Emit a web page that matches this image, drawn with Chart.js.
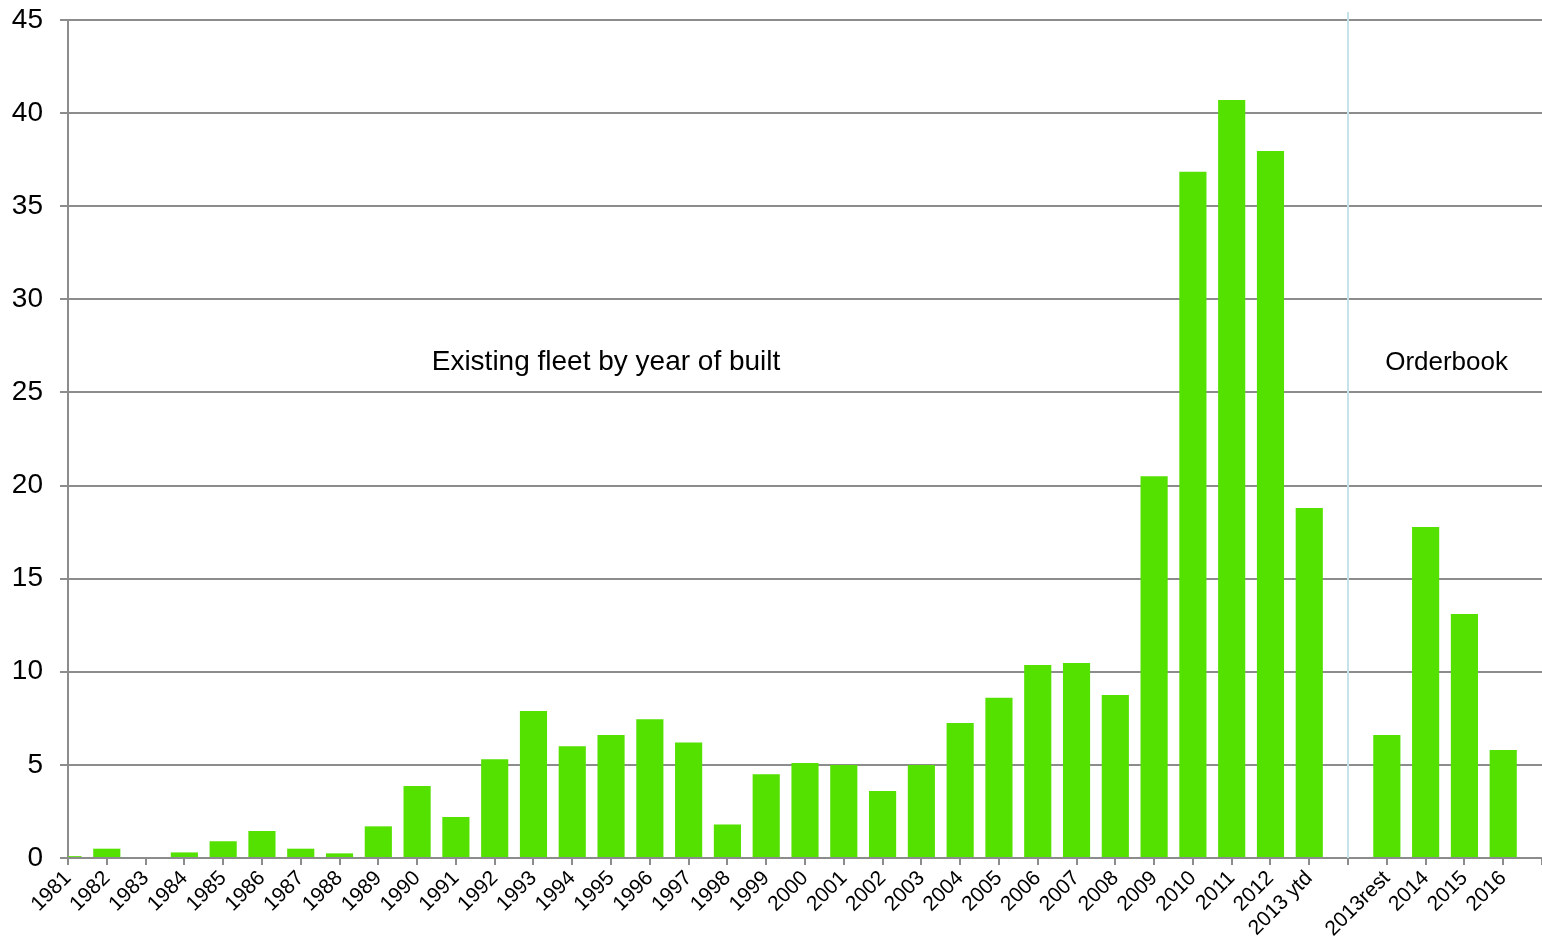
<!DOCTYPE html>
<html>
<head>
<meta charset="UTF-8">
<title>Fleet by year of built</title>
<script src="https://cdn.jsdelivr.net/npm/chart.js@4"></script>
<style>
  body { margin: 0; background: #fff; }
  #wrap { width: 1542px; height: 945px; }
</style>
</head>
<body>
<div id="wrap"><canvas id="myChart"></canvas></div>
<script>
// categories, the empty ones make the gap before the orderbook and the space at the end
var years = ['1981','1982','1983','1984','1985','1986','1987','1988','1989','1990',
  '1991','1992','1993','1994','1995','1996','1997','1998','1999','2000',
  '2001','2002','2003','2004','2005','2006','2007','2008','2009','2010',
  '2011','2012','2013 ytd','','2013rest','2014','2015','2016',''];

var fleet = [0.1, 0.5, 0, 0.3, 0.9, 1.45, 0.5, 0.25, 1.7, 3.87,
  2.2, 5.3, 7.9, 6.0, 6.6, 7.45, 6.2, 1.8, 4.5, 5.1,
  5.0, 3.6, 5.0, 7.25, 8.6, 10.37, 10.47, 8.75, 20.5, 36.85,
  40.7, 37.97, 18.8, null, 6.6, 17.78, 13.1, 5.8, null];

var yTicks = [0, 5, 10, 15, 20, 25, 30, 35, 40, 45];

var notes = [
  { text: 'Existing fleet by year of built', at: 13.87, y: 26.6, size: 28 },
  { text: 'Orderbook', at: 35.54, y: 26.6, size: 26 }
];
var dividerAt = 33;

var extras = {
  id: 'extras',
  afterDatasetsDraw: function(chart) {
    var ctx = chart.ctx, xs = chart.scales.x, ys = chart.scales.y;
    ctx.save();
    var dx = Math.round(xs.getPixelForValue(dividerAt));
    ctx.strokeStyle = '#c3e3e8';
    ctx.lineWidth = 2;
    ctx.beginPath();
    ctx.moveTo(dx, chart.chartArea.top - 8);
    ctx.lineTo(dx, chart.chartArea.bottom);
    ctx.stroke();

    ctx.fillStyle = '#000';
    ctx.textAlign = 'center';
    ctx.textBaseline = 'middle';
    notes.forEach(function(n) {
      ctx.font = n.size + 'px "Liberation Sans", Arial, sans-serif';
      ctx.fillText(n.text, xs.getPixelForValue(n.at), ys.getPixelForValue(n.y));
    });
    ctx.restore();
  }
};

var ctx = document.getElementById('myChart').getContext('2d');
var chart = new Chart(ctx, {
  type: 'bar',
  data: {
    labels: years,
    datasets: [{
      data: fleet,
      backgroundColor: '#55e100',
      barPercentage: 0.7,
      categoryPercentage: 1.0
    }]
  },
  options: {
    responsive: true,
    maintainAspectRatio: false,
    animation: false,
    layout: { padding: { top: 20, right: 0, left: 0, bottom: 0 } },
    plugins: { legend: { display: false }, tooltip: { enabled: false } },
    scales: {
      x: {
        offset: false,
        grid: {
          display: true,
          offset: false,
          drawOnChartArea: false,
          drawTicks: true,
          tickLength: 7,
          color: '#8c8c8c',
          lineWidth: 2
        },
        border: { color: '#8c8c8c', width: 2 },
        ticks: {
          autoSkip: false,
          maxRotation: 45,
          minRotation: 45,
          padding: 1,
          color: '#000',
          font: { family: '"Liberation Sans", Arial, sans-serif', size: 21 }
        },
        afterFit: function(s) {
          s.height = 87;
          s.paddingLeft = 0;
          s.paddingRight = 0;
        }
      },
      y: {
        min: 0,
        max: 45,
        afterBuildTicks: function(s) { s.ticks = yTicks.map(function(v) { return { value: v }; }); },
        grid: {
          color: '#8c8c8c',
          lineWidth: 2,
          tickLength: 8
        },
        border: { color: '#8c8c8c', width: 2 },
        ticks: {
          padding: 17,
          color: '#000',
          font: { family: '"Liberation Sans", Arial, sans-serif', size: 28 }
        },
        afterFit: function(s) {
          s.width = 68;
          s.paddingTop = 0;
          s.paddingBottom = 0;
        }
      }
    }
  },
  plugins: [extras]
});
</script>
</body>
</html>
